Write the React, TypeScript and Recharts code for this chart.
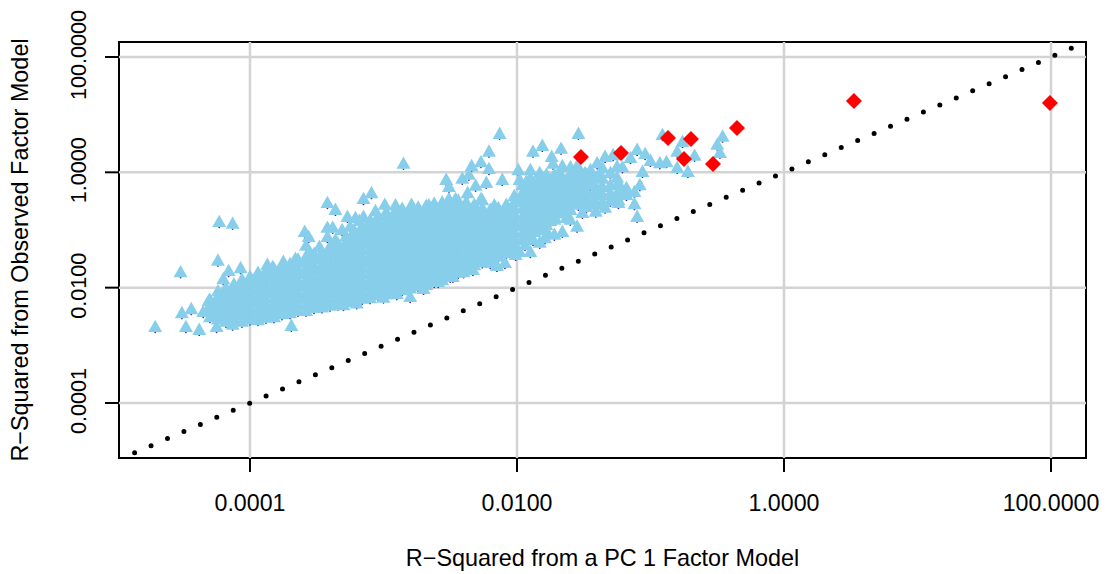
import { ScatterChart, Scatter, XAxis, YAxis, ReferenceLine, ReferenceArea } from 'recharts';

// everything below as log10 of the R-squared value
const tickExponents = [-4, -2, 0, 2];
const tickLabels = ['0.0001', '0.0100', '1.0000', '100.0000'];
const xRange = [-4.981, 2.262];
const yRange = [-4.954, 2.26];
const identityEnds = [-4.864, 2.161];

// dense part of the cloud, one x with the y values stacked above it
const cloudColumns: [number, number[]][] = [
  [-4.3, [-2.6, -2.5, -2.39, -2.3]],
  [-4.24, [-2.64, -2.54, -2.44, -2.33, -2.24, -2.15]],
  [-4.18, [-2.68, -2.58, -2.47, -2.37, -2.27, -2.18, -2.09]],
  [-4.12, [-2.65, -2.55, -2.44, -2.34, -2.23, -2.12, -2.03]],
  [-4.06, [-2.68, -2.57, -2.47, -2.36, -2.26, -2.16, -2.05, -1.95]],
  [-4.0, [-2.64, -2.54, -2.43, -2.33, -2.22, -2.12, -2.01, -1.9]],
  [-3.94, [-2.65, -2.55, -2.45, -2.34, -2.24, -2.13, -2.03, -1.93, -1.83]],
  [-3.88, [-2.61, -2.51, -2.4, -2.3, -2.19, -2.09, -1.98, -1.88, -1.78]],
  [-3.82, [-2.6, -2.49, -2.39, -2.28, -2.18, -2.07, -1.97, -1.86, -1.76]],
  [-3.76, [-2.55, -2.45, -2.34, -2.24, -2.13, -2.03, -1.92, -1.82, -1.71]],
  [-3.7, [-2.53, -2.42, -2.32, -2.21, -2.11, -2.0, -1.9, -1.79, -1.68]],
  [-3.64, [-2.49, -2.39, -2.28, -2.18, -2.07, -1.97, -1.86, -1.76, -1.65, -1.6]],
  [-3.58, [-2.49, -2.38, -2.27, -2.17, -2.06, -1.96, -1.85, -1.75, -1.64, -1.55]],
  [-3.52, [-2.44, -2.34, -2.23, -2.13, -2.02, -1.92, -1.81, -1.71, -1.6, -1.5]],
  [-3.46, [-2.43, -2.32, -2.22, -2.11, -2.01, -1.9, -1.8, -1.69, -1.59, -1.48]],
  [-3.4, [-2.4, -2.3, -2.19, -2.09, -1.98, -1.88, -1.77, -1.67, -1.56, -1.46, -1.37]],
  [-3.34, [-2.38, -2.27, -2.17, -2.06, -1.96, -1.85, -1.75, -1.64, -1.54, -1.43, -1.33]],
  [-3.28, [-2.34, -2.24, -2.13, -2.03, -1.92, -1.82, -1.71, -1.61, -1.5, -1.4, -1.29, -1.2]],
  [-3.22, [-2.32, -2.21, -2.11, -2.0, -1.9, -1.79, -1.69, -1.58, -1.48, -1.37, -1.27, -1.16, -1.1]],
  [-3.16, [-2.28, -2.18, -2.07, -1.97, -1.86, -1.76, -1.65, -1.55, -1.44, -1.34, -1.23, -1.13, -1.02]],
  [-3.1, [-2.27, -2.16, -2.06, -1.95, -1.85, -1.74, -1.64, -1.53, -1.43, -1.32, -1.22, -1.11, -1.01, -0.92]],
  [-3.04, [-2.22, -2.12, -2.01, -1.91, -1.8, -1.7, -1.59, -1.49, -1.38, -1.28, -1.17, -1.07, -0.96, -0.85]],
  [-2.98, [-2.2, -2.09, -1.99, -1.88, -1.78, -1.67, -1.57, -1.46, -1.36, -1.25, -1.15, -1.04, -0.94, -0.83, -0.78]],
  [-2.92, [-2.15, -2.05, -1.94, -1.84, -1.73, -1.63, -1.52, -1.42, -1.31, -1.21, -1.1, -1.0, -0.89, -0.79]],
  [-2.86, [-2.13, -2.02, -1.92, -1.81, -1.71, -1.6, -1.5, -1.39, -1.29, -1.18, -1.08, -0.97, -0.87, -0.76, -0.72]],
  [-2.8, [-2.1, -2.0, -1.89, -1.79, -1.68, -1.58, -1.47, -1.37, -1.26, -1.16, -1.05, -0.95, -0.84, -0.74]],
  [-2.74, [-2.06, -1.96, -1.85, -1.75, -1.64, -1.54, -1.43, -1.33, -1.22, -1.12, -1.01, -0.91, -0.8, -0.7]],
  [-2.68, [-2.04, -1.93, -1.83, -1.72, -1.62, -1.51, -1.41, -1.3, -1.2, -1.09, -0.99, -0.88, -0.78, -0.67]],
  [-2.62, [-1.99, -1.89, -1.78, -1.68, -1.57, -1.47, -1.36, -1.26, -1.15, -1.05, -0.94, -0.84, -0.73, -0.63]],
  [-2.56, [-1.96, -1.85, -1.75, -1.64, -1.54, -1.43, -1.33, -1.22, -1.12, -1.01, -0.91, -0.8, -0.7, -0.61]],
  [-2.5, [-1.9, -1.79, -1.69, -1.58, -1.48, -1.37, -1.27, -1.16, -1.06, -0.95, -0.85, -0.74, -0.64]],
  [-2.44, [-1.83, -1.73, -1.62, -1.52, -1.41, -1.31, -1.2, -1.1, -0.99, -0.89, -0.78, -0.68, -0.58]],
  [-2.38, [-1.76, -1.65, -1.55, -1.44, -1.34, -1.23, -1.13, -1.02, -0.92, -0.81, -0.71, -0.61]],
  [-2.32, [-1.7, -1.6, -1.49, -1.39, -1.28, -1.18, -1.07, -0.97, -0.86, -0.76, -0.65]],
  [-2.26, [-1.65, -1.55, -1.44, -1.34, -1.23, -1.13, -1.02, -0.92, -0.81, -0.71]],
  [-2.2, [-1.58, -1.48, -1.37, -1.27, -1.16, -1.06, -0.95, -0.85, -0.74]],
  [-2.14, [-1.55, -1.44, -1.34, -1.23, -1.13, -1.02, -0.92, -0.81, -0.71]],
  [-2.08, [-1.49, -1.39, -1.28, -1.18, -1.07, -0.97, -0.86, -0.76, -0.65]],
  [-2.02, [-1.44, -1.34, -1.23, -1.13, -1.02, -0.92, -0.81, -0.71, -0.6, -0.5]],
];

// looser arm to the right of 0.01
const armColumns: [number, number[]][] = [
  [-1.96, [-1.26, -1.14, -1.0, -0.86, -0.72, -0.58, -0.45, -0.31]],
  [-1.93, [-1.2, -1.07, -0.93, -0.79, -0.65, -0.51, -0.38, -0.25]],
  [-1.9, [-1.17, -1.03, -0.9, -0.76, -0.62, -0.48, -0.34, -0.19]],
  [-1.87, [-1.12, -0.98, -0.84, -0.7, -0.56, -0.42, -0.28]],
  [-1.84, [-1.09, -0.93, -0.79, -0.65, -0.51, -0.38, -0.24]],
  [-1.81, [-1.05, -0.88, -0.74, -0.6, -0.46, -0.32, -0.18]],
  [-1.78, [-1.0, -0.83, -0.69, -0.55, -0.41, -0.27, -0.13]],
  [-1.75, [-0.93, -0.78, -0.64, -0.5, -0.36, -0.22]],
  [-1.72, [-0.86, -0.72, -0.58, -0.45, -0.31, -0.13]],
  [-1.69, [-0.8, -0.66, -0.52, -0.39, -0.25]],
  [-1.66, [-0.74, -0.6, -0.46, -0.32, -0.19]],
  [-1.63, [-0.67, -0.5, -0.36, -0.22]],
  [-1.6, [-0.74, -0.55, -0.41, -0.27, -0.13]],
  [-1.57, [-0.6, -0.45, -0.33, -0.19]],
  [-1.54, [-0.65, -0.51, -0.39, -0.27, -0.1, 0]],
  [-1.51, [-0.46, -0.33, -0.2]],
  [-1.48, [-0.69, -0.55, -0.41, -0.27, -0.13]],
  [-1.42, [-0.57, -0.45, -0.31, -0.17]],
  [-1.36, [-0.65, -0.48, -0.34, -0.2]],
  [-1.3, [-0.58, -0.45, -0.31]],
  [-1.24, [-0.57, -0.41, -0.27]],
  [-1.18, [-0.48, -0.36]],
];

const armExtras: [number, number][] = [
  [-1.6, 0], [-1.45, -0.05], [-1.49, -0.1], [-1.38, -0.1], [-1.3, -0.1], [-1.57, -0.27],
  [-1.45, -0.31], [-1.38, -0.39], [-1.3, -0.48], [-1.51, -0.57], [-1.45, -0.65], [-1.34, -0.7],
  [-1.68, -0.1], [-1.83, -0.1], [-1.9, -0.05], [-1.88, -1.26], [-1.79, -1.23], [-1.72, -1.17],
  [-1.83, -1.31], [-2.01, -1.52], [-2.09, -1.66], [-2.2, -1.66],
];

const lowerEdge: [number, number][] = [
  [-4.71, -2.77], [-4.52, -1.82], [-4.51, -2.53], [-4.44, -2.46], [-4.48, -2.77], [-4.38, -2.82],
  [-4.35, -2.51], [-4.31, -2.32], [-4.25, -2.77], [-4.13, -2.73], [-3.69, -2.75], [-2.8, -2.25],
  [-2.59, -1.99], [-2.48, -1.9], [-2.4, -1.82], [-2.33, -1.78], [-2.15, -1.71], [-1.98, -1.47],
  [-1.9, -1.47], [-1.94, -1.35], [-1.77, -1.14], [-1.66, -1.12], [-1.72, -0.91], [-1.6, -0.91],
  [-1.55, -1.03], [-1.51, -0.79], [-1.41, -0.77], [-1.63, -0.88], [-1.75, -0.83], [-1.36, -0.6],
  [-1.24, -0.62], [-3.3, -2.39], [-3.2, -2.36], [-3.0, -2.26], [-2.9, -2.2], [-2.7, -2.11],
];

const upperEdge: [number, number][] = [
  [-4.23, -0.95], [-4.13, -0.98], [-4.24, -1.62], [-4.16, -1.8], [-4.07, -1.75], [-4.2, -1.94],
  [-3.42, -0.62], [-3.36, -0.74], [-3.59, -1.12], [-3.56, -1.21], [-3.58, -1.36], [-3.42, -1.05],
  [-3.42, -1.21], [-3.38, -1.05], [-3.31, -1.09], [-3.27, -0.86], [-3.21, -0.88], [-3.15, -0.55],
  [-3.09, -0.45], [-3.15, -0.86], [-2.85, 0.06], [-2.13, 0.58], [-1.54, 0.58], [-2.21, 0.27],
  [-2.27, 0.09], [-2.34, 0.02], [-2.21, -0.03], [-2.53, -0.22], [-2.51, -0.34], [-2.41, -0.2],
  [-2.36, -0.13], [-2.23, -0.27], [-2.31, -0.32], [-2.11, -0.22], [-2.37, -0.45], [-2.26, -0.57],
  [-1.99, -0.05], [-1.98, -0.22], [-1.88, 0.27], [-1.81, 0.37], [-1.67, 0.32], [-1.74, 0.18],
  [-1.73, 0.06], [-1.66, 0.02], [-1.55, 0.02], [-1.4, 0.07], [-1.34, 0.18], [-1.28, 0.21],
  [-1.15, 0.16], [-1.1, 0.3], [-1.04, 0.23], [-1.0, 0.11], [-0.93, 0.07], [-0.88, 0.09],
  [-0.91, 0.56], [-0.76, 0.44], [-0.8, 0.27], [-0.67, 0.2], [-0.8, -0.01], [-0.72, -0.08],
  [-0.5, 0.39], [-0.46, 0.53], [-0.48, 0.25], [-1.06, -0.08], [-1.25, -0.18], [-1.08, -0.31],
  [-1.12, -0.43], [-1.21, -0.45], [-1.12, -0.64], [-1.1, -0.86], [-1.21, 0], [-1.36, -0.01],
  [-1.25, 0.01],
  [-3.87, -1.69], [-3.83, -1.73], [-3.75, -1.64], [-3.66, -1.59], [-3.55, -1.49], [-3.48, -1.38],
  [-3.36, -1.26], [-3.25, -1.03], [-3.18, -0.93], [-3.06, -0.76], [-2.99, -0.65], [-2.91, -0.66],
  [-2.79, -0.65], [-2.66, -0.66], [-2.51, -0.55], [-2.46, -0.55], [-2.27, -0.55], [-2.17, -0.66],
];

const redX = [-1.521, -1.221, -0.869, -0.697, -0.749, -0.532, -0.352, 0.524, 1.992];
const redY = [0.266, 0.335, 0.595, 0.578, 0.231, 0.144, 0.769, 1.237, 1.202];

const toPoint = ([x, y]: [number, number]) => ({ x: 10 ** x, y: 10 ** y });

const cloudData = [
  ...[...cloudColumns, ...armColumns].flatMap(([x, ys]) => ys.map((y) => toPoint([x, y]))),
  ...armExtras.map(toPoint),
  ...lowerEdge.map(toPoint),
  ...upperEdge.map(toPoint),
];
const redData = redX.map((x, i) => toPoint([x, redY[i]]));
const identityData = identityEnds.map((v) => toPoint([v, v]));
const tickValues = tickExponents.map((e) => 10 ** e);

const FONT = '"Liberation Sans", Arial, sans-serif';

const Triangle = ({ cx, cy }: any) => (
  <polygon points={`${cx - 7},${cy} ${cx + 7},${cy} ${cx},${cy - 12.4}`} fill="#87CEEB" />
);

const BaseDot = ({ cx, cy }: any) => <circle cx={cx} cy={cy + 0.2} r={0.9} fill="#2a2ac8" />;

const Diamond = ({ cx, cy }: any) => (
  <polygon points={`${cx - 8},${cy} ${cx},${cy - 8} ${cx + 8},${cy} ${cx},${cy + 8}`} fill="#FF0000" />
);

const XTick = ({ x, index }: any) => (
  <text x={x} y={510.5} textAnchor="middle" fontSize={23.2} fontFamily={FONT} fill="#000">
    {tickLabels[index]}
  </text>
);

const YTick = ({ y, index }: any) => (
  <text
    x={86}
    y={y - 2}
    textAnchor="middle"
    fontSize={21.6}
    fontFamily={FONT}
    fill="#000"
    transform={`rotate(-90 86 ${y - 2})`}
  >
    {tickLabels[index]}
  </text>
);

export default function App() {
  return (
    <div style={{ position: 'absolute', left: 0, top: 0 }}>
      <ScatterChart width={1107} height={574} margin={{ top: 42, right: 21, bottom: 0, left: 0 }}>
        <XAxis
          type="number"
          dataKey="x"
          scale="log"
          domain={xRange.map((v) => 10 ** v)}
          ticks={tickValues}
          allowDataOverflow
          height={116}
          tickSize={14}
          tickLine={{ stroke: '#000', strokeWidth: 2 }}
          axisLine={false}
          interval={0}
          tick={<XTick />}
          label={{ value: 'R\u2212Squared from a PC 1 Factor Model', position: 'insideBottom', offset: 8, fontSize: 23.4, fontFamily: FONT, fill: '#000' }}
        />
        <YAxis
          type="number"
          dataKey="y"
          scale="log"
          domain={yRange.map((v) => 10 ** v)}
          ticks={tickValues}
          allowDataOverflow
          width={119}
          tickSize={14}
          tickLine={{ stroke: '#000', strokeWidth: 2 }}
          axisLine={false}
          interval={0}
          tick={<YTick />}
          label={{ value: 'R\u2212Squared from Observed Factor Model', angle: -90, position: 'insideLeft', offset: 20, fontSize: 23.4, fontFamily: FONT, fill: '#000', style: { textAnchor: 'middle' } }}
        />
        <Scatter data={cloudData} shape={<BaseDot />} isAnimationActive={false} />
        <Scatter data={cloudData} shape={<Triangle />} isAnimationActive={false} />
        <Scatter data={redData} shape={<Diamond />} isAnimationActive={false} />
        {tickValues.map((v) => (
          <ReferenceLine key={`v${v}`} x={v} stroke="#D3D3D3" strokeWidth={2.5} />
        ))}
        {tickValues.map((v) => (
          <ReferenceLine key={`h${v}`} y={v} stroke="#D3D3D3" strokeWidth={2.5} />
        ))}
        <Scatter
          data={identityData}
          shape={() => null}
          line={{ stroke: '#000', strokeWidth: 5, strokeLinecap: 'round', strokeDasharray: '0 17.9' }}
          isAnimationActive={false}
        />
        <ReferenceArea
          x1={10 ** xRange[0]}
          x2={10 ** xRange[1]}
          y1={10 ** yRange[0]}
          y2={10 ** yRange[1]}
          fill="none"
          stroke="#000"
          strokeWidth={2}
          ifOverflow="visible"
        />
      </ScatterChart>
    </div>
  );
}
